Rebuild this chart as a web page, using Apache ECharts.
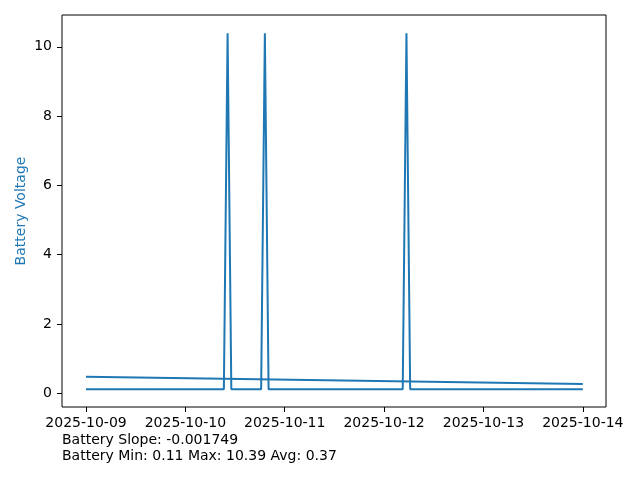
<!DOCTYPE html>
<html>
<head>
<meta charset="utf-8">
<script src="https://cdn.jsdelivr.net/npm/echarts@6/dist/echarts.min.js"></script>
<style>html,body{margin:0;padding:0;background:#fff}#c{width:640px;height:480px}</style>
</head>
<body>
<div id="c"></div>
<script>
// Hours since 2025-10-09 00:00 and battery voltage (key points of the series)
var batteryHours = [0, 33.3, 34.2, 35.1, 42.3, 43.2, 44.1, 76.5, 77.4, 78.3, 120];
var batteryValues = [0.11, 0.11, 10.39, 0.11, 0.11, 10.39, 0.11, 0.11, 10.39, 0.11, 0.11];
// Trend line
var trendHours = [0, 120];
var trendValues = [0.47, 0.265];
// Tick labels
var xTickHours = [0, 24, 48, 72, 96, 120];
var xTickLabels = ['2025-10-09', '2025-10-10', '2025-10-11', '2025-10-12', '2025-10-13', '2025-10-14'];
var yTicks = [0, 2, 4, 6, 8, 10];
var footerLines = ['Battery Slope: -0.001749', 'Battery Min: 0.11 Max: 10.39 Avg: 0.37'];

var color = '#1f77b4';
var font = 'DejaVu Sans';
function pairs(xs, ys) { return xs.map(function (x, i) { return [x, ys[i]]; }); }

var chart = echarts.init(document.getElementById('c'), null, { renderer: 'canvas' });
chart.setOption({
  animation: false,
  backgroundColor: '#fff',
  grid: { left: 62, right: 34, top: 15, bottom: 73, show: true, borderColor: '#000', borderWidth: 1, backgroundColor: 'transparent' },
  xAxis: {
    type: 'value', min: -5.8, max: 125.6,
    axisLine: { show: false, onZero: false },
    splitLine: { show: false },
    axisTick: { show: true, length: 5, lineStyle: { color: '#000', width: 1 }, customValues: xTickHours },
    axisLabel: {
      customValues: xTickHours, margin: 9, color: '#000', fontFamily: font, fontSize: 14,
      formatter: function (v) { var i = xTickHours.indexOf(v); return i >= 0 ? xTickLabels[i] : ''; }
    }
  },
  yAxis: {
    type: 'value', min: -0.4, max: 10.92,
    name: 'Battery Voltage', nameLocation: 'middle', nameGap: 34, nameRotate: 90, nameMoveOverlap: false,
    nameTextStyle: { color: color, fontFamily: font, fontSize: 14 },
    axisLine: { show: false, onZero: false },
    splitLine: { show: false },
    axisTick: { show: true, length: 5, lineStyle: { color: '#000', width: 1 }, customValues: yTicks },
    axisLabel: { customValues: yTicks, margin: 10, color: '#000', fontFamily: font, fontSize: 14 }
  },
  series: [
    { type: 'line', data: pairs(batteryHours, batteryValues), showSymbol: false, symbol: 'none',
      lineStyle: { color: color, width: 2 }, itemStyle: { color: color } },
    { type: 'line', data: pairs(trendHours, trendValues), showSymbol: false, symbol: 'none',
      lineStyle: { color: color, width: 2 }, itemStyle: { color: color } }
  ],
  graphic: footerLines.map(function (t, i) {
    return { type: 'text', left: 62, top: 433 + i * 16.5,
      style: { text: t, fill: '#000', font: '14px "DejaVu Sans"' } };
  })
});
</script>
</body>
</html>
